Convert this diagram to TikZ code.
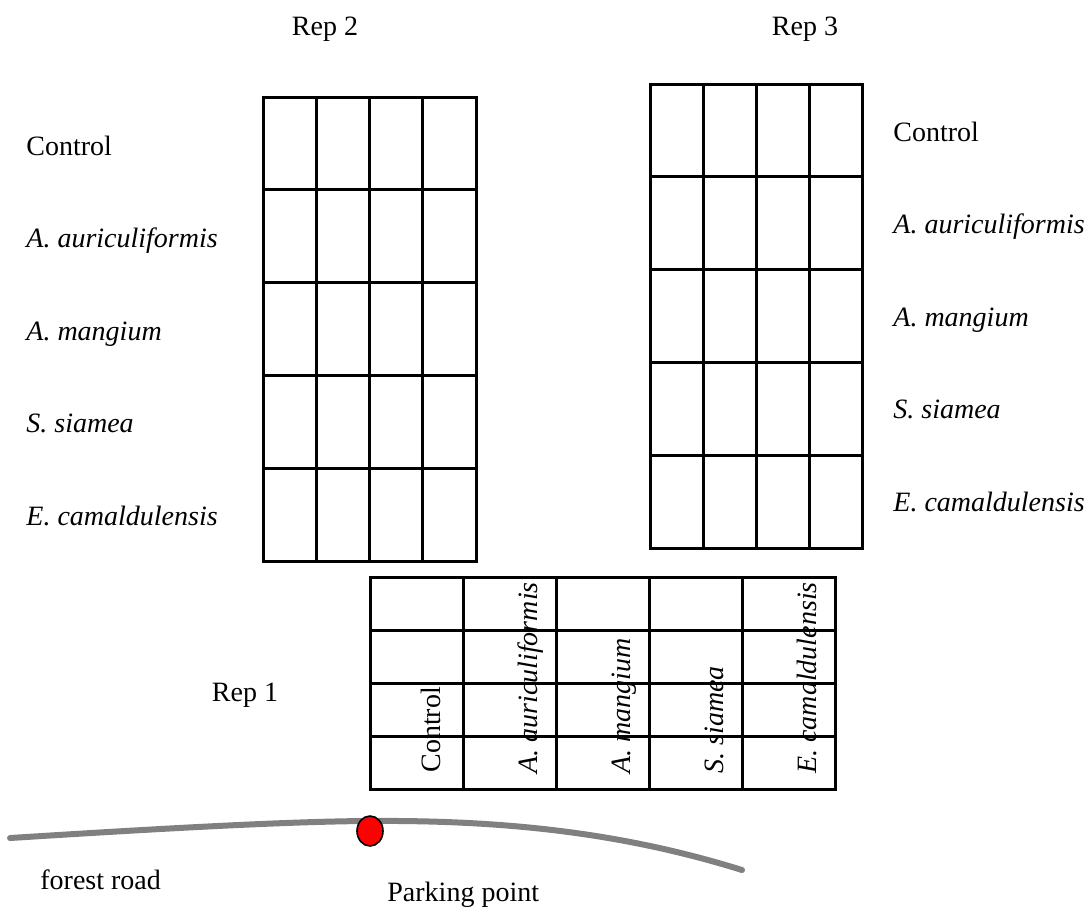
\documentclass[tikz,border=0pt]{standalone}
\usepackage{fontspec}
\setmainfont{Liberation Serif}
\usetikzlibrary{shapes.geometric}
\tikzset{
  plotline/.style={line width=1.5pt, draw=black},
  lab/.style={font=\fontsize{14}{16}\selectfont, inner sep=0pt},
  spec/.style={font=\fontsize{14}{16}\selectfont\itshape, inner sep=0pt},
  road/.style={line width=3pt, draw=gray, line cap=round},
  park/.style={draw, ellipse, fill=red, minimum width=13pt, minimum height=15pt,
               inner sep=0pt, line width=0.8pt},
}

\begin{document}
\begin{tikzpicture}[x=0.5pt, y=-0.5pt]
  \useasboundingbox (0,0) rectangle (1090,912);

  % Rep 2
  \draw[plotline] (263,97) rectangle (476,561);
  \foreach \i in {1,2,3} \draw[plotline] ({263+53.25*\i},97) -- ({263+53.25*\i},561);
  \foreach \j in {1,...,4} \draw[plotline] (263,{97+92.8*\j}) -- (476,{97+92.8*\j});
  \node[lab, anchor=base] (rep2) at (325,35) {Rep 2};
  \node[lab, anchor=base west] (ctrl2) at (26,155) {Control};
  \foreach \t [count=\k] in {A. auriculiformis, A. mangium, S. siamea, E. camaldulensis}
    \node[spec, anchor=base west] (sp2-\k) at (26,{155+92.6*\k}) {\t};

  % Rep 3
  \draw[plotline] (650,84) rectangle (862,548);
  \foreach \i in {1,2,3} \draw[plotline] ({650+53*\i},84) -- ({650+53*\i},548);
  \foreach \j in {1,...,4} \draw[plotline] (650,{84+92.8*\j}) -- (862,{84+92.8*\j});
  \node[lab, anchor=base] (rep3) at (805,35) {Rep 3};
  \node[lab, anchor=base west] (ctrl3) at (893,141) {Control};
  \foreach \t [count=\k] in {A. auriculiformis, A. mangium, S. siamea, E. camaldulensis}
    \node[spec, anchor=base west] (sp3-\k) at (893,{141+92.6*\k}) {\t};

  % Rep 1
  \draw[plotline] (370,577) rectangle (835,789);
  \foreach \i in {1,...,4} \draw[plotline] ({370+93*\i},577) -- ({370+93*\i},789);
  \foreach \j in {1,2,3} \draw[plotline] (370,{577+53*\j}) -- (835,{577+53*\j});
  \node[lab, anchor=base] (rep1) at (245,701) {Rep 1};
  \node[lab, rotate=90, anchor=base west] (ctrl1) at (440,773) {Control};
  \foreach \t [count=\k] in {A. auriculiformis, A. mangium, S. siamea, E. camaldulensis}
    \node[spec, rotate=90, anchor=base west] (sp1-\k) at ({444+93*\k},774) {\t};

  % road and parking
  \draw[road] (10,838) .. controls (200,826) and (320,820) .. (400,821)
              .. controls (520,822) and (630,835) .. (742,870);
  \node[park] (parking) at (370,831) {};
  \node[lab, anchor=base west] (roadlab) at (40,889) {forest road};
  \node[lab, anchor=base west] (parklab) at (387,901) {Parking point};
\end{tikzpicture}
\end{document}
